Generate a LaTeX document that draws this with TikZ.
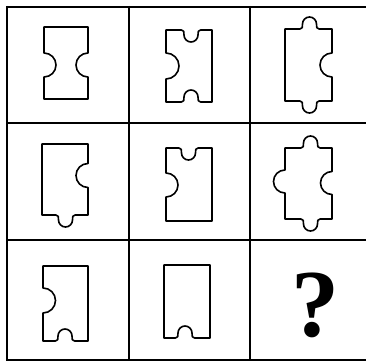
\documentclass[tikz,border=0pt]{standalone}
\usepackage{fontspec}
\setmainfont{Liberation Serif}
\newcommand{\pzTabTop}{.. controls +(2.5,0) and +(0,3) .. ++(2.5,-5) arc[start angle=180,end angle=360,radius=7] .. controls +(0,3) and +(-2.5,0) .. ++(2.5,5)}
\newcommand{\pzNotchTop}{.. controls +(2.5,0) and +(0,-3) .. ++(2.5,5) arc[start angle=180,end angle=0,radius=7] .. controls +(0,-3) and +(-2.5,0) .. ++(2.5,-5)}
\newcommand{\pzTabBot}{.. controls +(-2.5,0) and +(0,-3) .. ++(-2.5,5) arc[start angle=0,end angle=180,radius=7] .. controls +(0,-3) and +(2.5,0) .. ++(-2.5,-5)}
\newcommand{\pzNotchBot}{.. controls +(-2.5,0) and +(0,3) .. ++(-2.5,-5) arc[start angle=0,end angle=-180,radius=7] .. controls +(0,3) and +(2.5,0) .. ++(-2.5,5)}
\tikzset{gridline/.style={line width=2pt,black},
piece/.style={line width=1.6pt,black,line join=round}}
\begin{document}
\begin{tikzpicture}[x=1pt,y=-1pt]
\useasboundingbox (0,0) rectangle (366,361);
% grid
\draw[gridline] (7,7) -- (368,7);
\draw[gridline] (7,123) -- (368,123);
\draw[gridline] (7,240) -- (368,240);
\draw[gridline] (7,360) -- (368,360);
\draw[gridline] (7,6) -- (7,361);
\draw[gridline] (129,6) -- (129,361);
\draw[gridline] (250,6) -- (250,361);
% cell 1
\draw[piece] (44,27) -- (88,27) -- (88,53) arc[start angle=270,end angle=90,radius=12] -- (88,99) -- (44,99) -- (44,77) arc[start angle=90,end angle=-90,radius=12] -- cycle;
% cell 2
\draw[piece] (166,30) -- (181.5,30) \pzNotchTop -- (212,30) -- (212,102) -- (200.5,102) \pzNotchBot -- (166,102) -- (166,79) arc[start angle=90,end angle=-90,radius=13] -- cycle;
% cell 3
\draw[piece] (285,29) -- (300,29) \pzTabTop -- (332,29) -- (332,53) arc[start angle=270,end angle=90,radius=12] -- (332,101) -- (319,101) \pzTabBot -- (285,101) -- cycle;
% cell 4
\draw[piece] (42,144) -- (88,144) -- (88,163.5) arc[start angle=270,end angle=90,radius=12] -- (88,215) -- (75,215) \pzTabBot -- (42,215) -- cycle;
% cell 5
\draw[piece] (166,148) -- (179,148) \pzNotchTop -- (212,148) -- (212,221) -- (166,221) -- (166,197) arc[start angle=90,end angle=-90,radius=12] -- cycle;
% cell 6
\draw[piece] (285,148) -- (301,148) \pzTabTop -- (332,148) -- (332,171.5) arc[start angle=270,end angle=90,radius=11.5] -- (332,219) -- (320,219) \pzTabBot -- (285,219) -- (285,193) arc[start angle=90,end angle=270,radius=11.5] -- cycle;
% cell 7
\draw[piece] (43,266) -- (88,266) -- (88,341) -- (74.5,341) \pzNotchBot -- (43,341) -- (43,313) arc[start angle=90,end angle=-90,radius=12.5] -- cycle;
% cell 8
\draw[piece] (164,265) -- (210,265) -- (210,338) -- (194.5,338) \pzNotchBot -- (164,338) -- cycle;
% cell 9
\node[font=\fontsize{96}{96}\selectfont\bfseries, inner sep=0pt] (q) at (315,305) {?};
\end{tikzpicture}
\end{document}
